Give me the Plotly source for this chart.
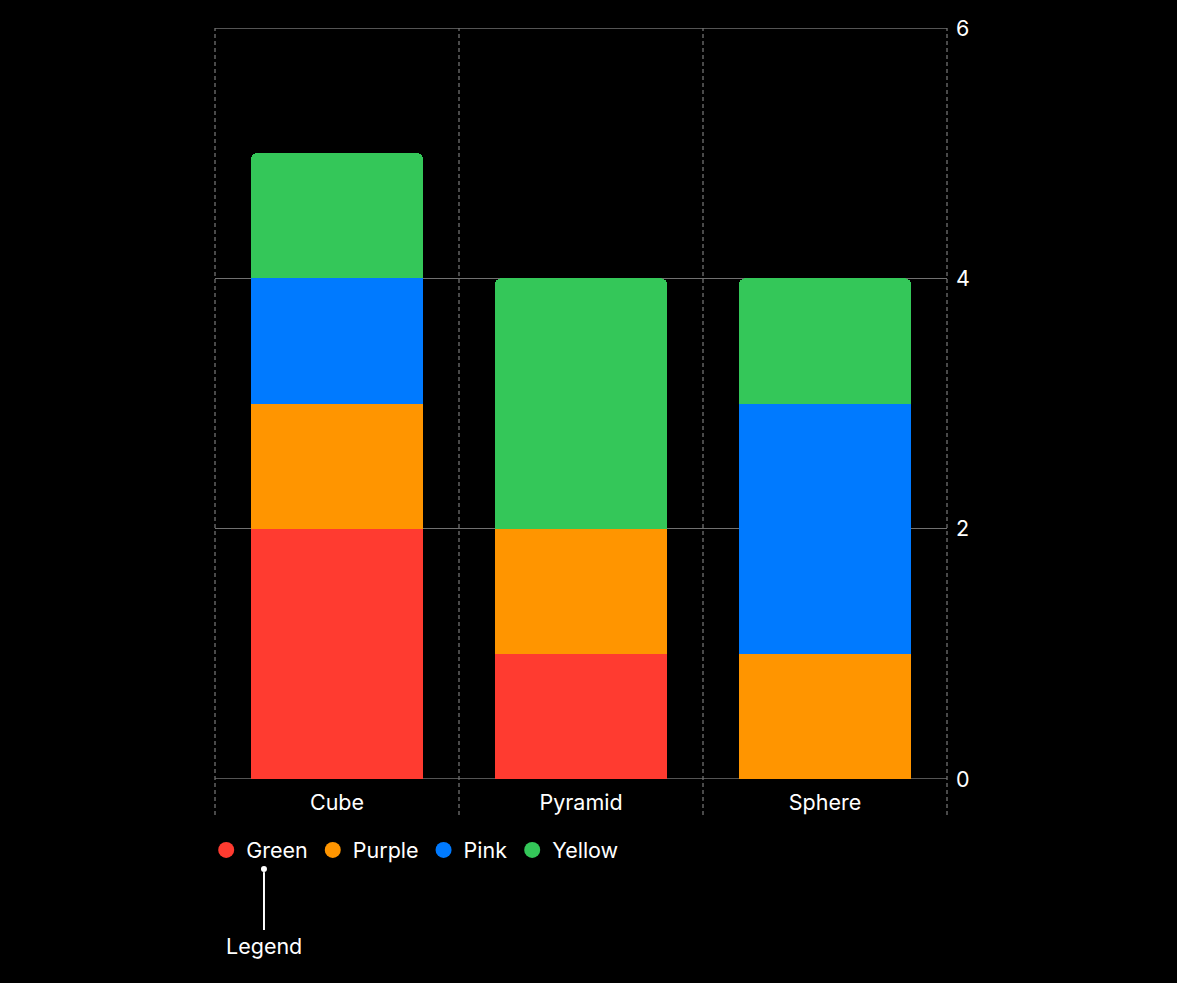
import plotly.graph_objects as go

categories = ["Cube", "Pyramid", "Sphere"]
series_names = ["Green", "Purple", "Pink", "Yellow"]
green_vals = [2, 1, 0]
purple_vals = [1, 1, 1]
pink_vals = [1, 0, 2]
yellow_vals = [1, 2, 1]
y_ticks = [0, 2, 4, 6]

series_values = [green_vals, purple_vals, pink_vals, yellow_vals]
colors = ["#FF3B30", "#FF9500", "#007AFF", "#34C759"]

FONT = "Inter, Roboto, 'Noto Sans', sans-serif"
GRID = "#707070"
FS = 21.5

fig = go.Figure()
for name, vals, col in zip(series_names, series_values, colors):
    fig.add_trace(go.Bar(x=categories, y=vals, name=name, marker=dict(color=col, line=dict(width=0)),
                         showlegend=False, hoverinfo="skip"))
for name, col in zip(series_names, colors):
    fig.add_trace(go.Scatter(x=[None], y=[None], mode="markers", name=name,
                             marker=dict(color=col, size=20, symbol="circle"), showlegend=True))

shapes = []
n = len(categories)
for i in range(n + 1):
    shapes.append(dict(type="line", xref="x domain", yref="paper", x0=i / n, x1=i / n,
                       y0=-0.048, y1=1, line=dict(color=GRID, width=1.3, dash="4px,3px"), layer="below"))
for yv in (y_ticks[0], y_ticks[-1]):
    shapes.append(dict(type="line", xref="x domain", yref="y", x0=0, x1=1, y0=yv, y1=yv,
                       line=dict(color=GRID, width=1.3), layer="below"))
# legend callout
shapes.append(dict(type="line", xref="paper", yref="paper", x0=0.0669, x1=0.0669,
                   y0=-0.124, y1=-0.2011, line=dict(color="white", width=2)))
shapes.append(dict(type="circle", xref="paper", yref="paper", x0=0.0669 - 0.0041, x1=0.0669 + 0.0041,
                   y0=-0.1198 - 0.0040, y1=-0.1198 + 0.0040, fillcolor="white", line=dict(width=0)))

fig.update_layout(
    width=1177, height=983,
    paper_bgcolor="black", plot_bgcolor="black",
    margin=dict(l=215, r=230, t=28, b=204),
    barmode="stack", bargap=0.295, barcornerradius=6,
    font=dict(family=FONT, size=FS, color="white"),
    showlegend=True,
    legend=dict(orientation="h", traceorder="normal", x=-0.012, xanchor="left", y=-0.0945, yanchor="middle",
                font=dict(size=FS, color="white"), bgcolor="rgba(0,0,0,0)", itemwidth=30),
    xaxis=dict(showgrid=False, zeroline=False, showline=False, ticks="",
               tickfont=dict(size=FS, color="white"), ticklabelstandoff=8),
    yaxis=dict(side="right", range=[0, 6], tickvals=y_ticks, showgrid=True, gridcolor=GRID, gridwidth=1.3,
               zeroline=False, showline=False, ticks="", tickfont=dict(size=FS, color="white"),
               ticklabelstandoff=8),
    shapes=shapes,
    annotations=[dict(text="Legend", xref="paper", yref="paper", x=0.0669, y=-0.2224,
                      xanchor="center", yanchor="middle", showarrow=False,
                      font=dict(size=FS, color="white"))],
)

fig.write_html("out.html", config={"displayModeBar": False},
               post_script="document.body.style.margin='0';document.body.style.background='black';")
